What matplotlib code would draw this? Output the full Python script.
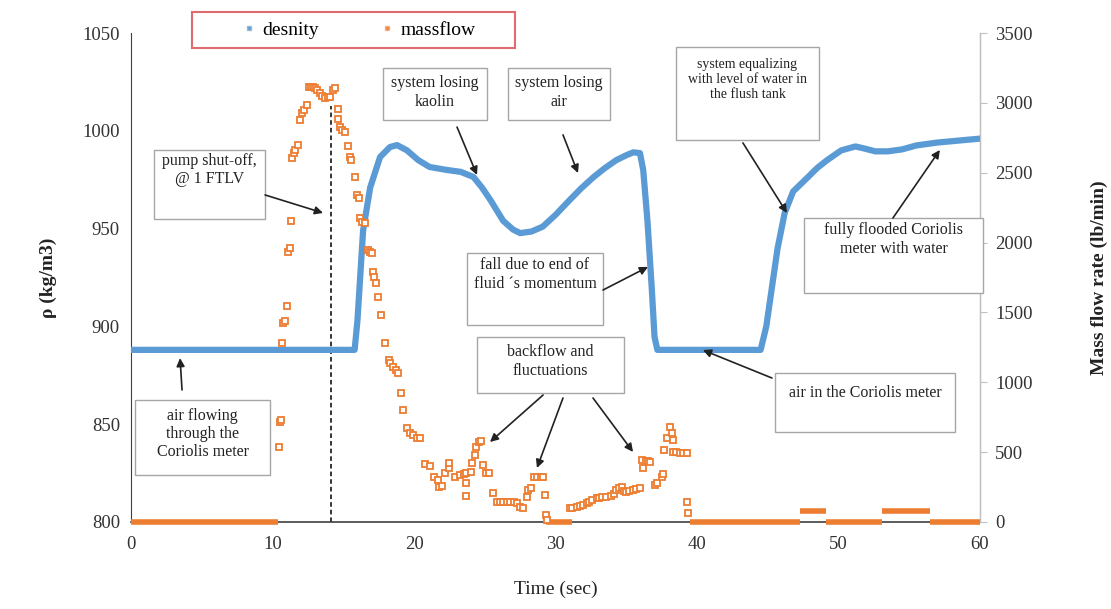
import numpy as np
import matplotlib
matplotlib.use('Agg')
import matplotlib.pyplot as plt
from matplotlib.patches import Rectangle

plt.rcParams['font.family'] = ['Liberation Serif', 'DejaVu Serif']

# density (kg/m3)
dens_t = [0, 15.8, 16.0, 16.4, 16.9, 17.6, 18.3, 18.8, 19.5, 20.3, 21.1, 22.3, 23.3, 24.2,
          24.8, 25.4, 26.3, 27.0, 27.5, 28.3, 29.1, 30.0, 31.0, 31.8, 32.7, 33.5, 34.3,
          35.0, 35.5, 35.97, 36.2, 36.5, 36.8, 37.0, 37.2, 44.5, 44.9, 45.3, 45.7, 46.2,
          46.8, 47.8, 48.5, 49.2, 50.2, 51.2, 51.8, 52.6, 53.5, 54.5, 55.5, 57.0, 58.5, 60.0]
dens_v = [888, 888, 903, 949, 971, 986.6, 991.7, 992.7, 990, 985, 981.5, 980, 979, 976.4,
          971, 964.6, 954, 949.5, 947.7, 948.5, 951, 957, 964.6, 970.5, 976.4, 981, 985,
          987.5, 989, 988.6, 980, 954, 920, 894.6, 888, 888, 900, 920, 940, 958,
          969, 976, 981, 985, 990, 992, 991, 989.5, 989.5, 990.5, 992.5, 994, 995, 996]

# mass flow (lb/min), scattered samples
mf_t = [10.45, 10.5, 10.6, 10.7, 10.75, 10.85, 11.0, 11.1, 11.2, 11.3, 11.36, 11.5, 11.6, 11.8,
        11.94, 12.06, 12.2, 12.4, 12.55, 12.7, 12.85, 13.0, 13.15, 13.36, 13.5, 13.7, 13.9,
        14.06, 14.25, 14.4, 14.6, 14.65, 14.8, 14.9, 15.1, 15.3, 15.5, 15.55, 15.8, 15.95,
        16.1, 16.15, 16.35, 16.5, 16.75, 16.9, 17.0, 17.1, 17.2, 17.3, 17.46, 17.7, 17.95,
        18.2, 18.3, 18.5, 18.7, 18.9, 19.06, 19.2, 19.5, 19.7, 19.9, 20.2, 20.4, 20.8, 21.1,
        21.4, 21.7, 21.8, 22.0, 22.2, 22.5, 22.5, 22.9, 23.25, 23.5, 23.7, 23.7, 23.7, 24.0,
        24.1, 24.3, 24.4, 24.6, 24.75, 24.9, 25.1, 25.3, 25.55, 25.85, 26.1, 26.3, 26.55,
        26.8, 27.05, 27.3, 27.5, 27.7, 27.96, 28.06, 28.3, 28.45, 28.7, 28.95, 29.1, 29.26,
        29.3, 29.4, 31.0, 31.2, 31.5, 31.7, 31.95, 32.2, 32.4, 32.6, 32.9, 33.1, 33.3, 33.6,
        33.9, 34.1, 34.3, 34.5, 34.7, 34.85, 35.0, 35.2, 35.5, 35.7, 36.0, 36.1, 36.2, 36.4,
        36.55, 36.7, 37.0, 37.2, 37.5, 37.6, 37.7, 37.9, 38.1, 38.2, 38.3, 38.3, 38.5, 38.8,
        39.0, 39.3, 39.3, 39.4]
mf_v = [539, 718, 730, 1281, 1427, 1440, 1546, 1935, 1960, 2157, 2603, 2640, 2662, 2698,
        2877, 2927, 2950, 2984, 3116, 3116, 3110, 3106, 3090, 3070, 3050, 3034, 3040,
        3044, 3090, 3106, 2956, 2884, 2830, 2806, 2793, 2691, 2612, 2590, 2471, 2340,
        2319, 2176, 2150, 2140, 1947, 1930, 1925, 1791, 1755, 1710, 1612, 1481, 1281,
        1159, 1140, 1111, 1090, 1066, 923, 801, 673, 639, 620, 601, 600, 415, 401,
        324, 300, 253, 260, 351, 386, 422, 324, 336, 345, 353, 279, 186, 360,
        422, 480, 539, 575, 580, 408, 351, 351, 208, 145, 145, 145, 145,
        140, 140, 136, 105, 100, 181, 229, 243, 324, 324, 324, 324, 193,
        50, 14, 100, 100, 110, 115, 122, 135, 145, 160, 169, 175, 180, 181,
        185, 200, 229, 240, 253, 220, 217, 225, 229, 235, 243, 444, 386, 440,
        435, 432, 265, 280, 324, 340, 515, 600, 682, 637, 587, 503, 500, 496,
        494, 494, 145, 64]

# flat runs of mass flow (start, end, value)
run_start = [0, 29.3, 39.5, 47.3, 49.1, 53.05, 56.5]
run_end = [10.4, 31.2, 47.3, 49.1, 53.05, 56.5, 60]
run_value = [0, 0, 0, 81, 0, 81, 0]

pump_off_time = 14.1

blue = '#5B9BD5'
orange = '#ED7D31'

fig = plt.figure(figsize=(11.11, 6.09), dpi=100)
ax = fig.add_axes([0.118, 0.1429, 0.764, 0.8029])
ax2 = ax.twinx()

ax.plot(dens_t, dens_v, color=blue, lw=4.5, solid_joinstyle='round', zorder=3)
ax.set_xlim(0, 60)
ax.set_ylim(800, 1050)
ax.set_xticks(np.arange(0, 61, 10))
ax.set_yticks(np.arange(800, 1051, 50))
ax.axvline(pump_off_time, ymax=0.85, color='black', ls=(0, (3, 2)), lw=1.1, zorder=2)

ax2.hlines(run_value, run_start, run_end, color=orange, lw=4, clip_on=False, zorder=4)
ax2.plot(mf_t, mf_v, ls='none', marker='s', ms=4.2, mfc='white', mec=orange, mew=1.3,
         clip_on=False, zorder=5)
ax2.set_ylim(0, 3500)
ax2.set_yticks(np.arange(0, 3501, 500))

for a in (ax, ax2):
    a.spines['top'].set_visible(False)
ax.spines['left'].set_color('#404040')
ax.spines['bottom'].set_color('#404040')
ax.spines['bottom'].set_linewidth(1.2)
ax2.spines['right'].set_color('#C0C0C0')
ax2.spines['left'].set_visible(False)
ax2.spines['bottom'].set_visible(False)
ax.tick_params(axis='both', length=0, labelsize=13.5, colors='#333333', pad=8)
ax.tick_params(axis='x', pad=10)
ax2.tick_params(axis='y', length=5, color='#C0C0C0', labelsize=13.5, labelcolor='#333333', pad=6)

ax.set_xlabel('Time (sec)', fontsize=14, color='#222222', labelpad=20)
ax.set_ylabel('ρ (kg/m3)', fontsize=14, fontweight='bold', color='#222222', labelpad=18)
ax2.set_ylabel('Mass flow rate (lb/min)', fontsize=14, fontweight='bold', color='#222222',
               labelpad=42)

# annotation boxes: (x0, x1, y_bottom, y_top, text, text_y, fontsize)
boxes = [
    (1.63, 9.47, 954.9, 990.2, 'pump shut-off,\n@ 1 FTLV', 980.0, 11.5),
    (17.81, 25.16, 1005.5, 1032.1, 'system losing\nkaolin', 1019.5, 11.5),
    (26.64, 33.85, 1005.5, 1032.1, 'system losing\nair', 1019.5, 11.5),
    (38.52, 48.62, 995.3, 1042.8, 'system equalizing\nwith level of water in\nthe flush tank', 1026.0, 10),
    (47.6, 60.2, 917.0, 955.4, 'fully flooded Coriolis\nmeter with water', 944.5, 11.5),
    (23.75, 33.36, 900.7, 937.5, 'fall due to end of\nfluid \u00b4s momentum', 926.5, 11.5),
    (24.45, 34.84, 866.0, 894.6, 'backflow and\nfluctuations', 882.0, 11.5),
    (0.28, 9.82, 824.0, 862.4, 'air flowing\nthrough the\nCoriolis meter', 845.0, 11.5),
    (45.51, 58.23, 846.0, 876.2, 'air in the Coriolis meter', 866.0, 11.5),
]
for x0, x1, y0, y1, txt, ty, fs in boxes:
    ax2.add_patch(Rectangle((x0, y0), x1 - x0, y1 - y0, transform=ax.transData,
                            facecolor='white', edgecolor='#A6A6A6', lw=1, zorder=6,
                            clip_on=False))
    ax2.text((x0 + x1) / 2, ty, txt, transform=ax.transData, ha='center', va='center',
             fontsize=fs, color='#222222', linespacing=1.2, zorder=7)

# arrows: (tail, head)
arrows = [
    ((9.47, 967.2), (13.57, 958.0)),
    ((23.04, 1001.9), (24.45, 977.4)),
    ((30.53, 997.9), (31.59, 978.4)),
    ((43.25, 993.8), (46.36, 958.0)),
    ((53.85, 955.4), (57.17, 990.2)),
    ((33.36, 918.6), (36.54, 930.4)),
    ((29.12, 864.9), (25.37, 840.9)),
    ((30.53, 863.4), (28.69, 827.6)),
    ((32.65, 863.4), (35.48, 835.8)),
    ((3.6, 867.5), (3.46, 883.8)),
    ((45.3, 873.6), (40.42, 887.9)),
]
for tail, head in arrows:
    ax2.annotate('', xy=head, xytext=tail, xycoords=ax.transData, textcoords=ax.transData,
                 arrowprops=dict(arrowstyle='-|>', color='#222222', lw=1.2,
                                 mutation_scale=12, shrinkA=0, shrinkB=0), zorder=8)

# legend on top with red frame
fig.patches.append(Rectangle((0.1728, 0.921), 0.2907, 0.059, transform=fig.transFigure,
                             facecolor='white', edgecolor='#E06C70', lw=1.5, zorder=10))
h1, = ax.plot([], [], ls='none', marker='s', ms=3.5, mfc=blue, mec='#9DB9D8', label='desnity')
h2, = ax.plot([], [], ls='none', marker='s', ms=3.5, mfc=orange, mec='#F2B08A', label='massflow')
leg = fig.legend(handles=[h1, h2], loc='center', bbox_to_anchor=(0.322, 0.951), ncol=2,
                 frameon=False, fontsize=14, handletextpad=0.2, columnspacing=3.0,
                 handlelength=1.0)
leg.set_zorder(11)

fig.savefig('out.png', dpi=100)
